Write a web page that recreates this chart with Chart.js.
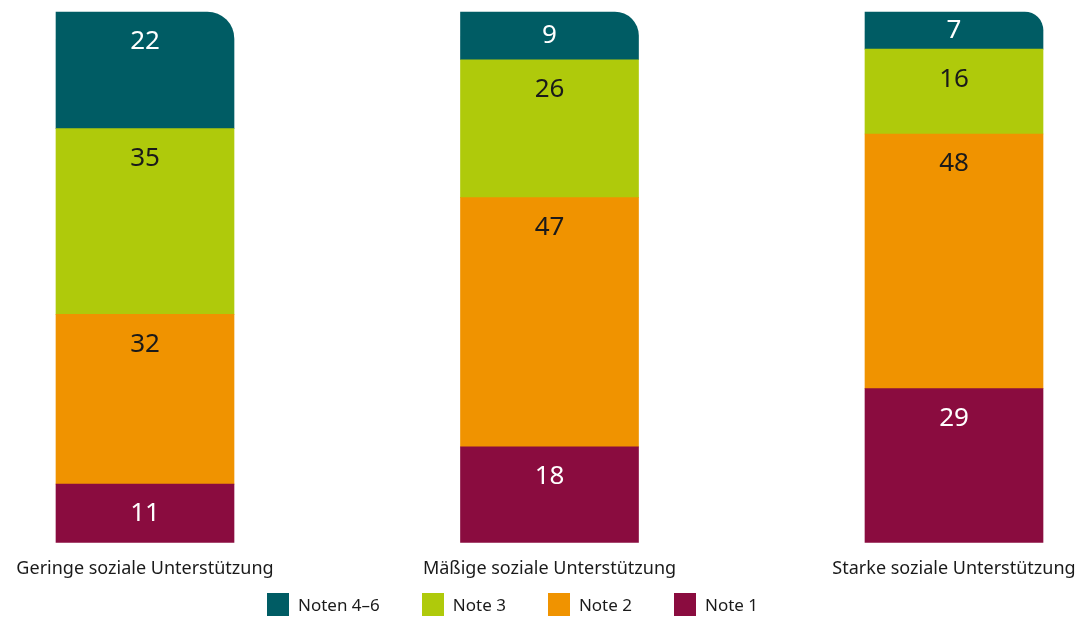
<!DOCTYPE html>
<html lang="de">
<head>
<meta charset="utf-8">
<script src="https://cdn.jsdelivr.net/npm/chart.js@4"></script>
<style>
  body { margin: 0; background: #fff; }
  #wrap { position: relative; width: 1078px; height: 617px; }
  #legend {
    position: absolute; left: 267px; top: 593px;
    display: flex; gap: 42px; align-items: center;
    font-family: "Noto Sans", sans-serif; font-size: 17px; color: #1a1a1a;
  }
  #legend .item { display: flex; align-items: center; gap: 9px; }
  #legend .box { width: 22px; height: 23px; }
</style>
</head>
<body>
<div id="wrap">
  <canvas id="chart" width="1078" height="617"></canvas>
  <div id="legend"></div>
</div>
<script>
// Daten
const kategorien = ['Geringe soziale Unterstützung', 'Mäßige soziale Unterstützung', 'Starke soziale Unterstützung'];
const note1 = [11, 18, 29];
const note2 = [32, 47, 48];
const note3 = [35, 26, 16];
const noten46 = [22, 9, 7];

const schrift = '"Noto Sans", sans-serif';

// Werte in die Segmente schreiben
const werteLabels = {
    id: 'werteLabels',
    afterDatasetsDraw(chart) {
        const ctx = chart.ctx;
        ctx.save();
        ctx.font = '26px ' + schrift;
        ctx.textAlign = 'center';
        ctx.textBaseline = 'middle';
        chart.data.datasets.forEach((ds, i) => {
            const meta = chart.getDatasetMeta(i);
            meta.data.forEach((bar, j) => {
                const top = Math.min(bar.y, bar.base);
                const bottom = Math.max(bar.y, bar.base);
                const y = Math.min(top + 30, (top + bottom) / 2);
                ctx.fillStyle = ds.labelColor;
                ctx.fillText(ds.data[j], bar.x, y);
            });
        });
        ctx.restore();
    }
};

const ctx = document.getElementById('chart').getContext('2d');
const chart = new Chart(ctx, {
    type: 'bar',
    data: {
        labels: kategorien,
        datasets: [
            { label: 'Note 1', data: note1, backgroundColor: '#8a0c3f', labelColor: '#ffffff' },
            { label: 'Note 2', data: note2, backgroundColor: '#f09300', labelColor: '#1a1a1a' },
            { label: 'Note 3', data: note3, backgroundColor: '#afca0b', labelColor: '#1a1a1a' },
            {
                label: 'Noten 4–6', data: noten46, backgroundColor: '#005c64', labelColor: '#ffffff',
                borderRadius: { topLeft: 0, topRight: 27, bottomLeft: 0, bottomRight: 0 },
                borderSkipped: false
            }
        ].map(ds => Object.assign({ barThickness: 178, clip: false }, ds))
    },
    options: {
        responsive: false,
        animation: false,
        layout: { padding: { top: 12, left: 145, right: 124, bottom: 37 } },
        plugins: {
            legend: { display: false },
            tooltip: { enabled: false }
        },
        scales: {
            x: {
                stacked: true,
                offset: false,
                // Abstand der Beschriftung über tickLength, damit die Seitenränder nicht wachsen
                grid: { display: false, drawTicks: true, tickLength: 16 },
                border: { display: false },
                ticks: {
                    font: { family: schrift, size: 18 },
                    color: '#1a1a1a',
                    padding: 0,
                    maxRotation: 0,
                    autoSkip: false
                }
            },
            y: { stacked: true, display: false, min: 0, max: 100 }
        }
    },
    plugins: [werteLabels]
});

// Legende (Reihenfolge wie im Original: oben im Stapel zuerst)
const legende = document.getElementById('legend');
chart.data.datasets.slice().reverse().forEach(ds => {
    const item = document.createElement('div');
    item.className = 'item';
    const box = document.createElement('span');
    box.className = 'box';
    box.style.background = ds.backgroundColor;
    const txt = document.createElement('span');
    txt.textContent = ds.label;
    item.appendChild(box);
    item.appendChild(txt);
    legende.appendChild(item);
});
</script>
</body>
</html>
